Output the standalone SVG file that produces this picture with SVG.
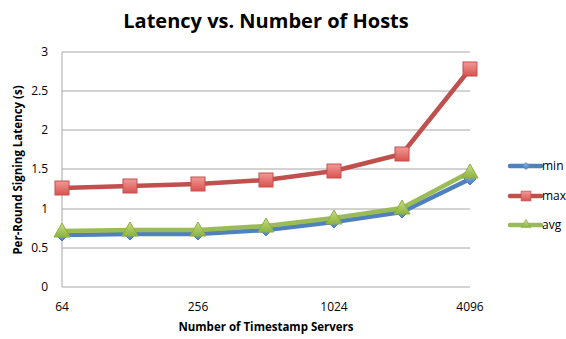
<svg xmlns="http://www.w3.org/2000/svg" width="566" height="339" viewBox="0 0 566 339">
<style>
.t{font-family:"Open Sans","Liberation Sans",sans-serif;fill:#000}
.tick{font-size:12px}
.grid{stroke:#A6A6A6;stroke-width:1}
.ln{fill:none;stroke-width:4.5;stroke-linejoin:round;stroke-linecap:round}
</style>
<defs>
<linearGradient id="gr" x1="0" y1="0" x2="0" y2="1"><stop offset="0" stop-color="#F19A97"/><stop offset="1" stop-color="#D9534F"/></linearGradient>
<linearGradient id="gg" x1="0" y1="0" x2="0" y2="1"><stop offset="0" stop-color="#C6DE86"/><stop offset="1" stop-color="#8DB33E"/></linearGradient>
<linearGradient id="gb" x1="0" y1="0" x2="0" y2="1"><stop offset="0" stop-color="#8FB6E6"/><stop offset="1" stop-color="#4A7EC0"/></linearGradient>
<rect id="sq" x="-7" y="-7" width="14" height="14" fill="url(#gr)" stroke="#C0504D" stroke-width="1"/>
<path id="tri" d="M0,-8 L8,6 L-8,6 Z" fill="url(#gg)" stroke="#8DB040" stroke-width="1"/>
<path id="dia" d="M0,-6 L6,0 L0,6 L-6,0 Z" fill="url(#gb)" stroke="#4A7EBB" stroke-width="1"/>
</defs>
<rect width="566" height="339" fill="#fff"/>
<text class="t" x="266" y="28" font-size="20" font-weight="bold" text-anchor="middle">Latency vs. Number of Hosts</text>
<g id="grid">
<line class="grid" x1="62" y1="52" x2="470" y2="52"/>
<line class="grid" x1="62" y1="91" x2="470" y2="91"/>
<line class="grid" x1="62" y1="130" x2="470" y2="130"/>
<line class="grid" x1="62" y1="169" x2="470" y2="169"/>
<line class="grid" x1="62" y1="209" x2="470" y2="209"/>
<line class="grid" x1="62" y1="248" x2="470" y2="248"/>
<line class="grid" x1="62" y1="287" x2="470" y2="287"/>
<line class="grid" x1="62" y1="52" x2="62" y2="287"/>
</g>
<g id="yticks" class="t tick" text-anchor="end">
<text x="48" y="56">3</text>
<text x="48" y="95">2.5</text>
<text x="48" y="134">2</text>
<text x="48" y="173">1.5</text>
<text x="48" y="213">1</text>
<text x="48" y="252">0.5</text>
<text x="48" y="291">0</text>
</g>
<g id="xticks" class="t tick" text-anchor="middle">
<text x="62" y="311">64</text>
<text x="198" y="311">256</text>
<text x="334" y="311">1024</text>
<text x="470" y="311">4096</text>
</g>
<text class="t" x="266" y="331" font-size="11.5" font-weight="bold" text-anchor="middle">Number of Timestamp Servers</text>
<text class="t" transform="translate(22,170) rotate(-90)" font-size="11.5" font-weight="bold" text-anchor="middle">Per-Round Signing Latency (s)</text>
<g id="connectors">
<polyline id="min-line" class="ln" stroke="#4F81BD" points="62,235 130,234 198,234 266,230 334,222 402,212 470,179"/>
<polyline id="avg-line" class="ln" stroke="#9BBB59" points="62,231 130,230 198,230 266,226 334,218 402,208 470,172"/>
<polyline id="max-line" class="ln" stroke="#C0504D" points="62,188 130,186 198,184 266,180 334,171 402,154 470,69"/>
</g>
<g id="min">
<use href="#dia" x="62" y="235"/><use href="#dia" x="130" y="234"/><use href="#dia" x="198" y="234"/><use href="#dia" x="266" y="230"/><use href="#dia" x="334" y="222"/><use href="#dia" x="402" y="212"/><use href="#dia" x="470" y="179"/>
</g>
<g id="avg">
<use href="#tri" x="62" y="231"/><use href="#tri" x="130" y="230"/><use href="#tri" x="198" y="230"/><use href="#tri" x="266" y="226"/><use href="#tri" x="334" y="218"/><use href="#tri" x="402" y="208"/><use href="#tri" x="470" y="172"/>
</g>
<g id="max">
<use href="#sq" x="62" y="188"/><use href="#sq" x="130" y="186"/><use href="#sq" x="198" y="184"/><use href="#sq" x="266" y="180"/><use href="#sq" x="334" y="171"/><use href="#sq" x="402" y="154"/><use href="#sq" x="470" y="69"/>
</g>
<g id="legend">
<line class="ln" stroke="#4F81BD" x1="510" y1="166" x2="541" y2="166"/>
<use href="#dia" transform="translate(526,166) scale(0.6)"/>
<text class="t" x="542" y="170" font-size="12">min</text>
<line class="ln" stroke="#C0504D" x1="510" y1="196" x2="541" y2="196"/>
<use href="#sq" transform="translate(526,196) scale(0.7)"/>
<text class="t" x="542" y="200" font-size="12">max</text>
<line class="ln" stroke="#9BBB59" x1="510" y1="225" x2="541" y2="225"/>
<use href="#tri" transform="translate(526,224) scale(0.6)"/>
<text class="t" x="542" y="229" font-size="12">avg</text>
</g>
</svg>
